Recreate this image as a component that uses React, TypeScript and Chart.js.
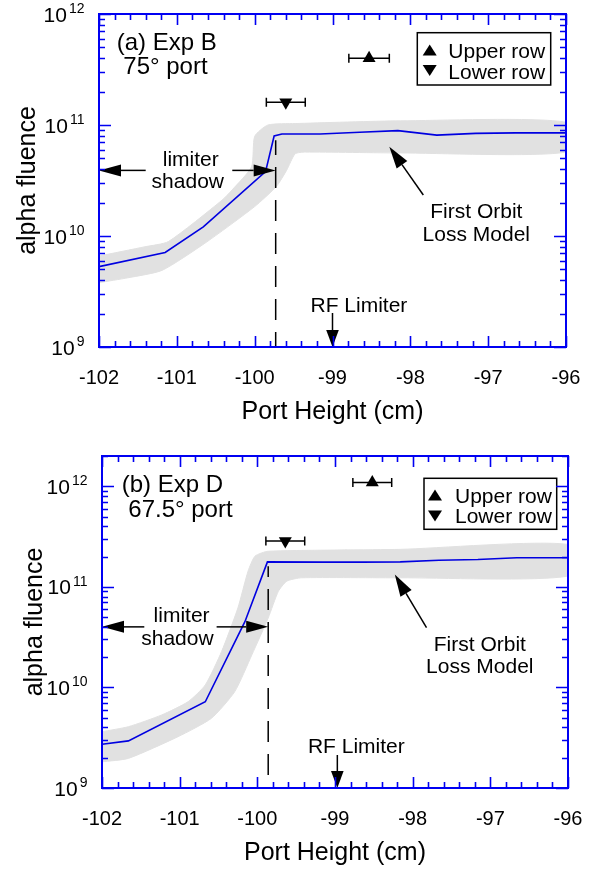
import React, { useEffect, useRef } from 'react';
import { Chart, registerables } from 'chart.js';

Chart.register(...registerables);

const FONT = "'Liberation Sans', Arial, Helvetica, sans-serif";
const AXIS_BLUE = '#0000f2';
const LINE_BLUE = '#0000e0';
const BAND_GRAY = '#e1e1e1';

const xMin = -102;
const xMax = -96;
const yMin = 1e9;

// ---------- Panel (a): Exp B, 75° port ----------
const aModelX = [-102, -101.15, -100.66, -99.86, -99.75, -99.65, -99.16, -98.65, -98.16, -97.66, -97.16, -96.65, -96];
const aModelY = [5.3e9, 7.1e9, 1.21e10, 3.8e10, 7.96e10, 8.3e10, 8.3e10, 8.6e10, 8.9e10, 8.1e10, 8.4e10, 8.5e10, 8.5e10];
// uncertainty band outline: upper edge left->right, then lower edge right->left
const aBandX = [-102, -101.41, -101.11, -100.42, -100.29, -100.04, -100.0, -99.83, -99.48, -98.13, -96, -96, -98.13, -99.35, -99.48, -99.59, -99.72, -100.0, -100.64, -101.19, -101.63, -102];
const aBandY = [6.6e9, 8.0e9, 8.9e9, 2.1e10, 2.6e10, 4.2e10, 7.9e10, 1.0e11, 1.03e11, 1.09e11, 1.06e11, 5.7e10, 5.6e10, 5.7e10, 5.5e10, 3.9e10, 2.8e10, 1.84e10, 8.6e9, 4.9e9, 4.2e9, 3.8e9];
const aUpperX = [-98.53];
const aUpperY = [4.0e11];
const aUpperErr = [0.26];
const aLowerX = [-99.6];
const aLowerY = [1.6e11];
const aLowerErr = [0.25];

// ---------- Panel (b): Exp D, 67.5° port ----------
const bModelX = [-102, -101.66, -100.67, -100.16, -99.87, -99.16, -98.66, -98.16, -97.66, -97.16, -96.66, -96];
const bModelY = [2.72e9, 2.94e9, 7.2e9, 4.5e10, 1.77e11, 1.76e11, 1.76e11, 1.77e11, 1.84e11, 1.87e11, 1.95e11, 1.95e11];
const bBandX = [-102, -101.66, -101.23, -100.89, -100.67, -100.46, -100.25, -100.12, -100.03, -99.86, -98.16, -96, -96, -98.16, -99.43, -99.62, -99.73, -99.86, -100.07, -100.29, -100.59, -101.02, -101.66, -102];
const bBandY = [3.63e9, 4.07e9, 5.33e9, 7.23e9, 1.06e10, 2.28e10, 6.18e10, 1.43e11, 2.02e11, 2.26e11, 2.36e11, 2.64e11, 1.28e11, 1.23e11, 1.23e11, 1.14e11, 9.0e10, 4.9e10, 2.11e10, 9.1e9, 4.94e9, 3.24e9, 1.97e9, 1.82e9];
const bUpperX = [-98.52];
const bUpperY = [1.09e12];
const bUpperErr = [0.25];
const bLowerX = [-99.64];
const bLowerY = [2.85e11];
const bLowerErr = [0.25];

const xTitle = 'Port Height (cm)';
const yTitle = 'alpha fluence';
const legendUpper = 'Upper row';
const legendLower = 'Lower row';

const panelA = {
  canvasTop: 0, canvasHeight: 434,
  padTop: 14, padRight: 36, yWidth: 99, xHeight: 87,
  yMax: 1e12,
  modelX: aModelX, modelY: aModelY, bandX: aBandX, bandY: aBandY,
  upX: aUpperX, upY: aUpperY, upErr: aUpperErr, lowX: aLowerX, lowY: aLowerY, lowErr: aLowerErr,
  label1: '(a) Exp B', label2: '75° port',
  label1Dx: 17.7, label1Dy: 36, label2Dx: 24.3, label2Dy: 60,
  yTitleX: 35,
  limiterX: -99.73, shadowY: 3.9e10, dashTopY: 7.3e10, dashOffset: 6,
  leftTail: 46.7, rightTail: 43.4, limiterTextDx: -84.9, shadowTextDx: -87.9, limiterDy: -4, shadowDy: 17.6,
  rfX: -99, rfLen: 34, rfTextDx: 26.4, rfTextDy: -35.3,
  orbitTipX: -98.27, orbitTipY: 6.38e10, orbitTailDx: 34, orbitTailDy: 48.3, orbitTextDx: 87, orbitText1Dy: 71.6, orbitText2Dy: 94,
  legendDx: -148.7, legendDy: 18.7, legendW: 133.4, legendH: 52.3, legTriDx: 12.4, legTextDx: 31,
  legRow1TriDy: 17.3, legRow2TriDy: 37.8, legRow1TextDy: 25.6, legRow2TextDy: 46.6,
};

const panelB = {
  canvasTop: 434, canvasHeight: 435,
  padTop: 22, padRight: 34, yWidth: 102, xHeight: 81,
  yMax: 2e12,
  modelX: bModelX, modelY: bModelY, bandX: bBandX, bandY: bBandY,
  upX: bUpperX, upY: bUpperY, upErr: bUpperErr, lowX: bLowerX, lowY: bLowerY, lowErr: bLowerErr,
  label1: '(b) Exp D', label2: '67.5° port',
  label1Dx: 19.7, label1Dy: 35.7, label2Dx: 26.3, label2Dy: 61.3,
  yTitleX: 41.5,
  limiterX: -99.86, shadowY: 4.0e10, dashTopY: 1.6e11, dashOffset: 20,
  leftTail: 42.3, rightTail: 51.6, limiterTextDx: -86.6, shadowTextDx: -90.8, limiterDy: -4.4, shadowDy: 18,
  rfX: -98.97, rfLen: 33, rfTextDx: 19, rfTextDy: -35.3,
  orbitTipX: -98.23, orbitTipY: 1.33e11, orbitTailDx: 31.7, orbitTailDy: 53.3, orbitTextDx: 85, orbitText1Dy: 76.7, orbitText2Dy: 99,
  legendDx: -144, legendDy: 22.3, legendW: 132.7, legendH: 51, legTriDx: 11, legTextDx: 31,
  legRow1TriDy: 16.7, legRow2TriDy: 37.7, legRow1TextDy: 24.4, legRow2TextDy: 45,
};

type PanelCfg = typeof panelA;

function arrow(ctx: CanvasRenderingContext2D, x1: number, y1: number, x2: number, y2: number, len: number, half: number) {
  const dx = x2 - x1, dy = y2 - y1;
  const d = Math.hypot(dx, dy);
  const ux = dx / d, uy = dy / d;
  const bx = x2 - ux * len, by = y2 - uy * len;
  ctx.beginPath();
  ctx.moveTo(x1, y1);
  ctx.lineTo(bx, by);
  ctx.stroke();
  ctx.beginPath();
  ctx.moveTo(x2, y2);
  ctx.lineTo(bx - uy * half, by + ux * half);
  ctx.lineTo(bx + uy * half, by - ux * half);
  ctx.closePath();
  ctx.fill();
}

function tri(ctx: CanvasRenderingContext2D, cx: number, cy: number, up: boolean) {
  const w = 14, h = 11;
  ctx.beginPath();
  if (up) {
    ctx.moveTo(cx, cy - h / 2);
    ctx.lineTo(cx + w / 2, cy + h / 2);
    ctx.lineTo(cx - w / 2, cy + h / 2);
  } else {
    ctx.moveTo(cx, cy + h / 2);
    ctx.lineTo(cx + w / 2, cy - h / 2);
    ctx.lineTo(cx - w / 2, cy - h / 2);
  }
  ctx.closePath();
  ctx.fill();
}

function makeDecor(p: PanelCfg) {
  return {
    id: 'decor',
    afterDatasetsDraw(chart: any) {
      const ctx: CanvasRenderingContext2D = chart.ctx;
      const xs = chart.scales.x;
      const ys = chart.scales.y;
      const { left, right, top, bottom } = chart.chartArea;
      const X = (v: number) => xs.getPixelForValue(v);
      const Y = (v: number) => ys.getPixelForValue(v);
      ctx.save();
      ctx.fillStyle = '#000';
      ctx.strokeStyle = '#000';
      ctx.lineWidth = 1.5;

      // error bars
      const bars = (xa: number[], ya: number[], ea: number[]) => {
        xa.forEach((x, i) => {
          const y = Y(ya[i]);
          const x1 = X(x - ea[i]);
          const x2 = X(x + ea[i]);
          ctx.beginPath();
          ctx.moveTo(x1, y); ctx.lineTo(x2, y);
          ctx.moveTo(x1, y - 4.5); ctx.lineTo(x1, y + 4.5);
          ctx.moveTo(x2, y - 4.5); ctx.lineTo(x2, y + 4.5);
          ctx.stroke();
        });
      };
      bars(p.upX, p.upY, p.upErr);
      bars(p.lowX, p.lowY, p.lowErr);

      // limiter dashed line
      const lx = X(p.limiterX);
      ctx.setLineDash([21, 12]);
      ctx.lineDashOffset = p.dashOffset;
      ctx.beginPath();
      ctx.moveTo(lx, bottom);
      ctx.lineTo(lx, Y(p.dashTopY));
      ctx.stroke();
      ctx.setLineDash([]);
      ctx.lineDashOffset = 0;

      // limiter shadow arrows
      const sy = Y(p.shadowY);
      arrow(ctx, left + p.leftTail, sy, left, sy, 22, 6);
      arrow(ctx, lx - p.rightTail, sy, lx, sy, 22, 6);
      ctx.font = `21px ${FONT}`;
      ctx.textAlign = 'center';
      ctx.textBaseline = 'alphabetic';
      ctx.fillText('limiter', lx + p.limiterTextDx, sy + p.limiterDy);
      ctx.fillText('shadow', lx + p.shadowTextDx, sy + p.shadowDy);

      // RF limiter
      const rx = X(p.rfX);
      arrow(ctx, rx, bottom - p.rfLen, rx, bottom, 17, 6.3);
      ctx.fillText('RF Limiter', rx + p.rfTextDx, bottom + p.rfTextDy);

      // First orbit loss model
      const ox = X(p.orbitTipX), oy = Y(p.orbitTipY);
      arrow(ctx, ox + p.orbitTailDx, oy + p.orbitTailDy, ox, oy, 22, 6.5);
      ctx.fillText('First Orbit', ox + p.orbitTextDx, oy + p.orbitText1Dy);
      ctx.fillText('Loss Model', ox + p.orbitTextDx, oy + p.orbitText2Dy);

      // panel labels
      ctx.font = `24px ${FONT}`;
      ctx.textAlign = 'left';
      ctx.fillText(p.label1, left + p.label1Dx, top + p.label1Dy);
      ctx.fillText(p.label2, left + p.label2Dx, top + p.label2Dy);

      // legend
      const lgx = right + p.legendDx, lgy = top + p.legendDy;
      ctx.fillStyle = '#fff';
      ctx.fillRect(lgx, lgy, p.legendW, p.legendH);
      ctx.fillStyle = '#000';
      ctx.lineWidth = 1.5;
      ctx.strokeRect(lgx, lgy, p.legendW, p.legendH);
      tri(ctx, lgx + p.legTriDx, lgy + p.legRow1TriDy, true);
      tri(ctx, lgx + p.legTriDx, lgy + p.legRow2TriDy, false);
      ctx.font = `21px ${FONT}`;
      ctx.fillText(legendUpper, lgx + p.legTextDx, lgy + p.legRow1TextDy);
      ctx.fillText(legendLower, lgx + p.legTextDx, lgy + p.legRow2TextDy);

      // frame
      ctx.strokeStyle = AXIS_BLUE;
      ctx.lineWidth = 2;
      ctx.strokeRect(left, top, right - left, bottom - top);

      // x ticks (inward, both sides)
      ctx.lineWidth = 1.6;
      ctx.beginPath();
      const nx = Math.round((xMax - xMin) / 0.2);
      for (let i = 0; i <= nx; i++) {
        const v = xMin + i * 0.2;
        const px = Math.round(X(v)) + 0.5;
        const len = i % 5 === 0 ? 11 : 6;
        ctx.moveTo(px, bottom); ctx.lineTo(px, bottom - len);
        ctx.moveTo(px, top); ctx.lineTo(px, top + len);
      }
      // y ticks (log, inward, both sides)
      const eMin = Math.floor(Math.log10(yMin));
      const eMax = Math.ceil(Math.log10(p.yMax));
      for (let e = eMin; e <= eMax; e++) {
        for (let m = 1; m <= 9; m++) {
          const v = m * Math.pow(10, e);
          if (v < yMin * 0.999 || v > p.yMax * 1.001) continue;
          const py = Math.round(Y(v)) + 0.5;
          const len = m === 1 ? 12 : 6;
          ctx.moveTo(left, py); ctx.lineTo(left + len, py);
          ctx.moveTo(right, py); ctx.lineTo(right - len, py);
        }
      }
      ctx.stroke();

      // x tick labels
      ctx.fillStyle = '#000';
      ctx.font = `20px ${FONT}`;
      ctx.textAlign = 'center';
      xs.ticks.forEach((t: any) => {
        ctx.fillText(String(t.value), X(t.value), bottom + 36.5);
      });

      // y tick labels 10^n
      for (let e = eMin; e <= eMax; e++) {
        const v = Math.pow(10, e);
        if (v < yMin * 0.999 || v > p.yMax * 1.001) continue;
        const py = Y(v);
        const expStr = String(e);
        ctx.font = `14px ${FONT}`;
        ctx.textAlign = 'right';
        const ew = ctx.measureText(expStr).width;
        const expRight = left - 14.5;
        ctx.fillText(expStr, expRight, py - 1);
        ctx.font = `21px ${FONT}`;
        ctx.fillText('10', expRight - ew - 2, py + 7.5);
      }

      // axis titles
      ctx.font = `25px ${FONT}`;
      ctx.textAlign = 'center';
      ctx.fillText(xTitle, (left + right) / 2, bottom + 72);
      ctx.save();
      ctx.translate(p.yTitleX, (top + bottom) / 2);
      ctx.rotate(-Math.PI / 2);
      ctx.fillText(yTitle, 0, 0);
      ctx.restore();

      ctx.restore();
    },
  };
}

function Panel({ p }: { p: PanelCfg }) {
  const ref = useRef<HTMLCanvasElement>(null);
  useEffect(() => {
    const canvas = ref.current;
    if (!canvas) return;
    const pts = (xa: number[], ya: number[]) => xa.map((x, i) => ({ x, y: ya[i] }));
    const chart = new Chart(canvas, {
      type: 'line',
      data: {
        datasets: [
          {
            data: pts(p.upX, p.upY),
            showLine: false,
            pointStyle: 'triangle',
            pointRadius: 7.5,
            pointBackgroundColor: '#000',
            pointBorderWidth: 0,
            order: 1,
          },
          {
            data: pts(p.lowX, p.lowY),
            showLine: false,
            pointStyle: 'triangle',
            pointRotation: 180,
            pointRadius: 7.5,
            pointBackgroundColor: '#000',
            pointBorderWidth: 0,
            order: 1,
          },
          {
            data: pts(p.modelX, p.modelY),
            borderColor: LINE_BLUE,
            borderWidth: 1.6,
            pointRadius: 0,
            fill: false,
            tension: 0,
            order: 2,
          },
          {
            data: pts(p.bandX, p.bandY),
            borderColor: BAND_GRAY,
            backgroundColor: BAND_GRAY,
            borderWidth: 1,
            pointRadius: 0,
            fill: 'shape',
            tension: 0.2,
            order: 3,
          },
        ] as any,
      },
      options: {
        animation: false,
        responsive: false,
        events: [],
        layout: { padding: { top: p.padTop, right: p.padRight, left: 0, bottom: 0 } },
        plugins: { legend: { display: false }, tooltip: { enabled: false }, title: { display: false } },
        scales: {
          x: {
            type: 'linear',
            min: xMin,
            max: xMax,
            ticks: { display: false, stepSize: 1 },
            grid: { display: false, drawTicks: false },
            border: { display: false },
            afterFit: (s: any) => { s.height = p.xHeight; },
          },
          y: {
            type: 'logarithmic',
            min: yMin,
            max: p.yMax,
            ticks: { display: false },
            grid: { display: false, drawTicks: false },
            border: { display: false },
            afterFit: (s: any) => { s.width = p.yWidth; },
          },
        },
      } as any,
      plugins: [makeDecor(p)],
    });
    return () => chart.destroy();
  }, [p]);
  return (
    <canvas
      ref={ref}
      width={602}
      height={p.canvasHeight}
      style={{ position: 'absolute', left: 0, top: p.canvasTop, width: 602, height: p.canvasHeight, display: 'block' }}
    />
  );
}

export default function App() {
  return (
    <div style={{ position: 'absolute', left: 0, top: 0, width: 602, height: 869, background: '#fff' }}>
      <Panel p={panelA} />
      <Panel p={panelB} />
    </div>
  );
}
